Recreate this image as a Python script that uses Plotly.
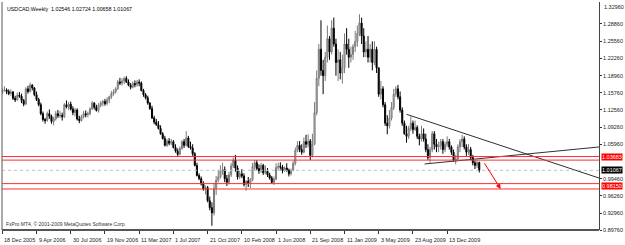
import plotly.graph_objects as go
import pandas as pd

# ---------------- data ----------------
dates = pd.date_range("2005-12-18", periods=224, freq="7D")

opens = [1.1580,1.1620,1.1630,1.1600,1.1560,1.1590,1.1470,1.1440,1.1530,1.1510,1.1430,1.1360,1.1650,1.1600,1.1720,1.1670,1.1540,1.1450,1.1350,1.1180,
1.1070,1.1050,1.1180,1.1130,1.1030,1.1080,1.1180,1.1140,1.1150,1.1120,1.1350,1.1310,1.1360,1.1270,1.1200,1.1250,1.1080,1.1050,1.1120,1.1180,
1.1160,1.1180,1.1270,1.1380,1.1300,1.1240,1.1340,1.1380,1.1410,1.1370,1.1440,1.1500,1.1560,1.1590,1.1650,1.1780,1.1760,1.1800,1.1850,1.1780,
1.1720,1.1680,1.1750,1.1730,1.1780,1.1760,1.1620,1.1540,1.1480,1.1380,1.1280,1.1100,1.1020,1.0970,1.0900,1.0800,1.0710,1.0580,1.0660,1.0620,
1.0650,1.0540,1.0470,1.0410,1.0520,1.0650,1.0580,1.0720,1.0560,1.0530,1.0420,1.0200,1.0010,0.9950,0.9850,0.9750,0.9780,0.9530,0.9400,0.9300,
0.9760,0.9920,0.9980,1.0100,1.0120,0.9950,0.9880,1.0020,1.0190,1.0300,1.0150,0.9980,1.0040,1.0000,0.9840,0.9900,0.9860,0.9930,1.0180,1.0250,
1.0140,1.0100,1.0200,1.0060,1.0090,1.0020,0.9960,0.9880,0.9940,1.0160,1.0180,1.0170,1.0100,1.0150,1.0110,1.0040,1.0110,1.0240,1.0480,1.0580,
1.0500,1.0450,1.0650,1.0600,1.0660,1.0390,1.0600,1.1200,1.1850,1.2400,1.2000,1.1900,1.2250,1.2600,1.2350,1.2800,1.2500,1.2150,1.2200,1.1950,
1.2050,1.2500,1.2400,1.2250,1.2300,1.2450,1.2550,1.2700,1.2900,1.2650,1.2350,1.2400,1.2250,1.2400,1.2150,1.2400,1.2050,1.1550,1.1650,1.1350,
1.1000,1.0950,1.1100,1.1300,1.1550,1.1650,1.1500,1.1250,1.1000,1.0800,1.0750,1.0900,1.1000,1.0880,1.0920,1.0750,1.0700,1.0800,1.0700,1.0500,
1.0350,1.0500,1.0800,1.0600,1.0550,1.0580,1.0650,1.0500,1.0600,1.0650,1.0550,1.0450,1.0300,1.0320,1.0550,1.0650,1.0700,1.0550,1.0450,1.0500,
1.0350,1.0250,1.0200,1.02546]

highs = [1.1660,1.1700,1.1660,1.1640,1.1640,1.1610,1.1520,1.1580,1.1590,1.1560,1.1460,1.1680,1.1710,1.1770,1.1740,1.1680,1.1600,1.1480,1.1390,1.1220,
1.1100,1.1220,1.1260,1.1160,1.1120,1.1230,1.1250,1.1230,1.1200,1.1380,1.1430,1.1400,1.1410,1.1320,1.1290,1.1280,1.1140,1.1160,1.1230,1.1240,
1.1220,1.1300,1.1420,1.1400,1.1350,1.1380,1.1420,1.1440,1.1460,1.1490,1.1520,1.1610,1.1640,1.1680,1.1820,1.1860,1.1850,1.1880,1.1890,1.1830,
1.1760,1.1790,1.1810,1.1820,1.1830,1.1790,1.1650,1.1570,1.1520,1.1400,1.1330,1.1140,1.1080,1.1040,1.0960,1.0830,1.0760,1.0700,1.0720,1.0700,
1.0680,1.0600,1.0520,1.0560,1.0680,1.0700,1.0850,1.0760,1.0650,1.0600,1.0450,1.0250,1.0050,0.9990,0.9900,0.9820,0.9810,0.9610,0.9500,0.9870,
1.0000,1.0120,1.0200,1.0250,1.0180,1.0020,1.0080,1.0250,1.0350,1.0400,1.0200,1.0100,1.0130,1.0050,0.9920,0.9980,0.9960,1.0250,1.0300,1.0300,
1.0220,1.0250,1.0230,1.0200,1.0150,1.0060,1.0000,0.9990,1.0240,1.0250,1.0260,1.0210,1.0180,1.0240,1.0140,1.0140,1.0280,1.0540,1.0660,1.0660,
1.0600,1.0730,1.0780,1.0790,1.0700,1.0800,1.1400,1.2000,1.2500,1.2950,1.2200,1.2350,1.2850,1.2650,1.2950,1.3000,1.2600,1.2400,1.2350,1.2300,
1.2700,1.2800,1.2600,1.2450,1.2500,1.2750,1.2850,1.3065,1.3000,1.2800,1.2550,1.2650,1.2500,1.2550,1.2550,1.2450,1.2050,1.1800,1.1700,1.1400,
1.1150,1.1250,1.1400,1.1650,1.1700,1.1725,1.1600,1.1300,1.1050,1.0950,1.0950,1.1130,1.1050,1.1050,1.0960,1.0800,1.0950,1.0900,1.0800,1.0600,
1.0550,1.0850,1.0850,1.0700,1.0650,1.0700,1.0700,1.0650,1.0750,1.0700,1.0580,1.0500,1.0400,1.0600,1.0700,1.0780,1.0750,1.0600,1.0600,1.0550,
1.0400,1.0300,1.0300,1.02724]

lows = [1.1550,1.1600,1.1550,1.1530,1.1520,1.1440,1.1400,1.1430,1.1480,1.1380,1.1320,1.1350,1.1560,1.1580,1.1620,1.1510,1.1420,1.1320,1.1150,1.1030,
1.0990,1.1030,1.1080,1.0990,1.0960,1.1050,1.1100,1.1100,1.1050,1.1100,1.1280,1.1250,1.1240,1.1150,1.1130,1.1050,1.1000,1.1030,1.1090,1.1110,
1.1110,1.1150,1.1250,1.1260,1.1220,1.1200,1.1300,1.1320,1.1330,1.1340,1.1380,1.1460,1.1520,1.1560,1.1630,1.1720,1.1710,1.1740,1.1760,1.1700,
1.1640,1.1660,1.1680,1.1690,1.1700,1.1600,1.1500,1.1450,1.1350,1.1250,1.1080,1.0980,1.0950,1.0880,1.0780,1.0690,1.0560,1.0550,1.0580,1.0580,
1.0520,1.0440,1.0370,1.0390,1.0500,1.0530,1.0560,1.0530,1.0500,1.0380,1.0180,0.9990,0.9920,0.9820,0.9720,0.9650,0.9500,0.9350,0.9056,0.9250,
0.9640,0.9880,0.9950,1.0020,0.9880,0.9810,0.9840,0.9980,1.0150,1.0080,0.9930,0.9940,0.9960,0.9800,0.9720,0.9790,0.9770,0.9900,1.0100,1.0100,
1.0040,1.0060,1.0020,1.0030,0.9980,0.9930,0.9850,0.9830,0.9920,1.0100,1.0120,1.0050,1.0080,1.0080,0.9990,1.0010,1.0090,1.0200,1.0450,1.0450,
1.0400,1.0430,1.0530,1.0540,1.0300,1.0350,1.0580,1.1150,1.1700,1.1900,1.1550,1.1800,1.2150,1.2200,1.2300,1.2450,1.1900,1.1800,1.1830,1.1750,
1.1950,1.2300,1.2050,1.2150,1.2200,1.2350,1.2450,1.2650,1.2500,1.2250,1.2250,1.2150,1.2150,1.2000,1.2100,1.1950,1.1500,1.1450,1.1300,1.0950,
1.0790,1.0900,1.1050,1.1250,1.1500,1.1450,1.1200,1.0950,1.0780,1.0630,1.0700,1.0850,1.0800,1.0850,1.0700,1.0580,1.0650,1.0650,1.0450,1.0300,
1.0250,1.0450,1.0500,1.0450,1.0450,1.0500,1.0420,1.0450,1.0550,1.0500,1.0400,1.0270,1.0220,1.0300,1.0450,1.0550,1.0500,1.0380,1.0400,1.0300,
1.0200,1.0130,1.0150,1.00658]

closes = [1.1620,1.1630,1.1600,1.1560,1.1590,1.1470,1.1440,1.1530,1.1510,1.1430,1.1360,1.1650,1.1600,1.1720,1.1670,1.1540,1.1450,1.1350,1.1180,1.1070,
1.1050,1.1180,1.1130,1.1030,1.1080,1.1180,1.1140,1.1150,1.1120,1.1350,1.1310,1.1360,1.1270,1.1200,1.1250,1.1080,1.1050,1.1120,1.1180,1.1160,
1.1180,1.1270,1.1380,1.1300,1.1240,1.1340,1.1380,1.1410,1.1370,1.1440,1.1500,1.1560,1.1590,1.1650,1.1780,1.1760,1.1800,1.1850,1.1780,1.1720,
1.1680,1.1750,1.1730,1.1780,1.1760,1.1620,1.1540,1.1480,1.1380,1.1280,1.1100,1.1020,1.0970,1.0900,1.0800,1.0710,1.0580,1.0660,1.0620,1.0650,
1.0540,1.0470,1.0410,1.0520,1.0650,1.0580,1.0720,1.0560,1.0530,1.0420,1.0200,1.0010,0.9950,0.9850,0.9750,0.9780,0.9530,0.9400,0.9300,0.9760,
0.9920,0.9980,1.0100,1.0120,0.9950,0.9880,1.0020,1.0190,1.0300,1.0150,0.9980,1.0040,1.0000,0.9840,0.9900,0.9860,0.9930,1.0180,1.0250,1.0140,
1.0100,1.0200,1.0060,1.0090,1.0020,0.9960,0.9880,0.9940,1.0160,1.0180,1.0170,1.0100,1.0150,1.0110,1.0040,1.0110,1.0240,1.0480,1.0580,1.0500,
1.0450,1.0650,1.0600,1.0660,1.0390,1.0600,1.1200,1.1850,1.2400,1.2000,1.1900,1.2250,1.2600,1.2350,1.2800,1.2500,1.2150,1.2200,1.1950,1.2050,
1.2500,1.2400,1.2250,1.2300,1.2450,1.2550,1.2700,1.2900,1.2650,1.2350,1.2400,1.2250,1.2400,1.2150,1.2400,1.2050,1.1550,1.1650,1.1350,1.1000,
1.0950,1.1100,1.1300,1.1550,1.1650,1.1500,1.1250,1.1000,1.0800,1.0750,1.0900,1.1000,1.0880,1.0920,1.0750,1.0700,1.0800,1.0700,1.0500,1.0350,
1.0500,1.0800,1.0600,1.0550,1.0580,1.0650,1.0500,1.0600,1.0650,1.0550,1.0450,1.0300,1.0320,1.0550,1.0650,1.0700,1.0550,1.0450,1.0500,1.0350,
1.0250,1.0200,1.0255,1.01067]

date_tick_vals = ["2005-12-18","2006-04-09","2006-07-30","2006-11-19","2007-03-11","2007-07-01","2007-10-21",
                  "2008-02-10","2008-06-01","2008-09-21","2009-01-11","2009-05-03","2009-08-23","2009-12-13"]
date_tick_text = ["18 Dec 2005","9 Apr 2006","30 Jul 2006","19 Nov 2006","11 Mar 2007","1 Jul 2007","21 Oct 2007",
                  "10 Feb 2008","1 Jun 2008","21 Sep 2008","11 Jan 2009","3 May 2009","23 Aug 2009","13 Dec 2009"]
price_ticks = [0.8976,0.9296,0.9626,0.9946,1.0596,1.0926,1.1256,1.1576,1.1896,1.2226,1.2556,1.2886]
price_top = 1.3296

red_levels = [1.03683, 1.0300, 0.9855, 0.9753]
red_label_levels = [1.03683, 0.9815]
bid_level = 1.01067

trend1_dates = ["2009-08-02", "2011-04-24"]
trend1_prices = [1.1168, 0.9961]
trend2_dates = ["2009-09-30", "2011-04-24"]
trend2_prices = [1.0227, 1.0549]
arrow_from = ("2010-04-11", 1.0270)
arrow_to = ("2010-06-06", 0.9753)

title_text = "USDCAD,Weekly  1.02546 1.02724 1.00658 1.01067"
copyright_text = "FxPro MT4, \u00a9 2001-2009 MetaQuotes Software Corp."

FONT = "Liberation Sans"
x_range = ["2005-12-17", "2011-04-24"]
y_range = [0.8976, 1.3296]

fig = go.Figure()
fig.add_trace(go.Candlestick(
    x=dates, open=opens, high=highs, low=lows, close=closes,
    increasing=dict(line=dict(color="#7a7a7a", width=1), fillcolor="#d0d0d0"),
    decreasing=dict(line=dict(color="#000000", width=1), fillcolor="#000000"),
    whiskerwidth=0, showlegend=False, hoverinfo="skip"))

for d, p in [(trend1_dates, trend1_prices), (trend2_dates, trend2_prices)]:
    fig.add_trace(go.Scatter(x=d, y=p, mode="lines", line=dict(color="#303030", width=1),
                             showlegend=False, hoverinfo="skip"))

shapes = []
for lv in red_levels:
    shapes.append(dict(type="line", xref="paper", x0=0, x1=1, yref="y", y0=lv, y1=lv,
                       line=dict(color="#ff3030", width=1)))
shapes.append(dict(type="line", xref="paper", x0=0, x1=1, yref="y", y0=bid_level, y1=bid_level,
                   line=dict(color="#c0c0c0", width=1, dash="dot")))
# frame
shapes.append(dict(type="line", xref="paper", yref="paper", x0=0, x1=0, y0=0, y1=1, line=dict(color="#555", width=1)))
shapes.append(dict(type="line", xref="paper", yref="paper", x0=0, x1=1, y0=0, y1=0, line=dict(color="#555", width=2)))

annotations = []
for v, t in zip(date_tick_vals, date_tick_text):
    annotations.append(dict(x=v, xref="x", y=0, yref="paper", yshift=-9.5, text=t, showarrow=False,
                            xanchor="left", yanchor="middle", font=dict(family=FONT, size=5.5, color="#222")))
annotations.append(dict(x=0.005, xref="paper", y=1, yref="paper", yshift=-2, text=title_text, showarrow=False,
                        xanchor="left", yanchor="top", font=dict(family=FONT, size=5.3, color="#000")))
annotations.append(dict(x=0.003, xref="paper", y=0, yref="paper", yshift=1, text=copyright_text, showarrow=False,
                        xanchor="left", yanchor="bottom", font=dict(family=FONT, size=5, color="#333")))
annotations.append(dict(x=1, xref="paper", xshift=3, y=price_top, yref="y", text=f"{price_top:.5f}", showarrow=False,
                        xanchor="left", yanchor="top", font=dict(family=FONT, size=5.5, color="#222")))
for lv in red_label_levels:
    annotations.append(dict(x=1, xref="paper", xshift=2, y=lv, yref="y", text=f"{lv:.5f}", showarrow=False,
                            xanchor="left", yanchor="middle", bgcolor="#ff0000", borderpad=0,
                            font=dict(family=FONT, size=5.5, color="white")))
annotations.append(dict(x=1, xref="paper", xshift=2, y=bid_level, yref="y", text=f"{bid_level:.5f}", showarrow=False,
                        xanchor="left", yanchor="middle", bgcolor="#000000", borderpad=0,
                        font=dict(family=FONT, size=5.5, color="white")))
annotations.append(dict(x=arrow_to[0], y=arrow_to[1], ax=arrow_from[0], ay=arrow_from[1], xref="x", yref="y",
                        axref="x", ayref="y", showarrow=True, arrowhead=2, arrowsize=1, arrowwidth=1,
                        arrowcolor="#ff0000", text=""))

fig.update_layout(
    width=625, height=245, margin=dict(l=2, r=22, t=2, b=15),
    paper_bgcolor="white", plot_bgcolor="white",
    shapes=shapes, annotations=annotations,
    xaxis=dict(type="date", range=x_range, rangeslider=dict(visible=False), showgrid=False, zeroline=False,
               tickvals=date_tick_vals, showticklabels=False, ticks="outside", ticklen=3, tickcolor="#333",
               showline=False),
    yaxis=dict(side="right", range=y_range, showgrid=False, zeroline=False, tickvals=price_ticks,
               ticktext=[f"{v:.5f}" for v in price_ticks], ticks="outside", ticklen=2, tickcolor="#333",
               showline=True, linecolor="#444", linewidth=1,
               tickfont=dict(family=FONT, size=5.5, color="#222")),
    font=dict(family=FONT),
)

fig.write_html("out.html")
